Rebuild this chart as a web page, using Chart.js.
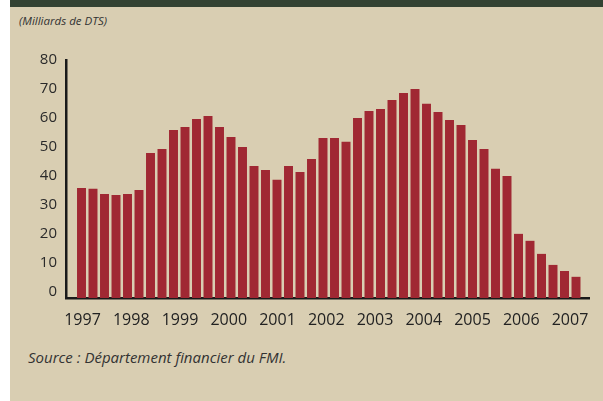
<!DOCTYPE html>
<html>
<head>
<meta charset="utf-8">
<script src="https://cdn.jsdelivr.net/npm/chart.js@4"></script>
<style>
  body { margin: 0; background: #fff; }
  #panel { position: absolute; left: 10px; top: 0; width: 593px; height: 401px; background: #d9ceb2; }
  #band { position: absolute; left: 10px; top: 0; width: 593px; height: 7px; background: #334232; }
  #unit { position: absolute; left: 19px; top: 13px; font: italic 11.5px "Open Sans", sans-serif; color: #333; }
  #source { position: absolute; left: 28px; top: 347px; font: italic 15px "Open Sans", sans-serif; color: #333; }
  #wrap { position: absolute; left: 0; top: 0; width: 603px; height: 401px; }
</style>
</head>
<body>
<div id="panel"></div>
<div id="band"></div>
<div id="unit">(Milliards de DTS)</div>
<div id="source">Source : Département financier du FMI.</div>
<div id="wrap"><canvas id="chart" width="603" height="401"></canvas></div>
<script>
// trimestres 1997 T1 -> 2007 T4
let values = [
    35.9, 35.6, 33.8, 33.5, 33.8, 35.2, 48.0, 49.3,
    55.9, 56.9, 59.7, 60.7, 56.9, 53.5, 50.0, 43.5,
    42.1, 38.7, 43.5, 41.4, 45.9, 53.1, 53.1, 51.8,
    60.0, 62.4, 63.1, 66.2, 68.6, 70.0, 64.9, 62.1,
    59.3, 57.6, 52.4, 49.3, 42.5, 40.0, 20.1, 17.7,
    13.2, 9.4, 7.3, 5.3
];
let years = [1997, 1998, 1999, 2000, 2001, 2002, 2003, 2004, 2005, 2006, 2007];
let yTicks = [0, 10, 20, 30, 40, 50, 60, 70, 80];

let yMin = -2;
let points = values.map((v, i) => ({ x: i, y: v }));

var ctx = document.getElementById("chart").getContext('2d');
var myChart = new Chart(ctx, {
    type: 'bar',
    data: {
        datasets: [{
            data: points,
            backgroundColor: '#a02833',
            base: yMin,
            categoryPercentage: 1,
            barPercentage: 0.78
        }]
    },
    options: {
        responsive: false,
        animation: false,
        layout: { padding: { left: 10, right: 14, top: 60, bottom: 63 } },
        plugins: { legend: { display: false }, tooltip: { enabled: false } },
        scales: {
            x: {
                type: 'linear',
                position: 'bottom',
                offset: false,
                min: -1.348,
                max: 44.13,
                display: false
            },
            years: {
                type: 'linear',
                position: 'bottom',
                offset: false,
                min: 1996.662,
                max: 2007.39,
                grid: { display: false, drawTicks: false, offset: false },
                border: { display: true, color: '#1a1a1a', width: 2.5 },
                afterBuildTicks: scale => { scale.ticks = years.map(v => ({ value: v })); },
                afterFit: scale => { scale.height = 40; },
                ticks: {
                    padding: 13,
                    color: '#222',
                    font: { family: 'Open Sans', size: 16 },
                    callback: v => String(v)
                }
            },
            y: {
                min: yMin,
                max: 80,
                grid: { display: false, drawTicks: false },
                border: { display: true, color: '#1a1a1a', width: 2.5 },
                afterBuildTicks: scale => { scale.ticks = yTicks.map(v => ({ value: v })); },
                afterFit: scale => { scale.width = 56; },
                ticks: {
                    padding: 9,
                    color: '#2a2a2a',
                    font: { family: 'Open Sans', size: 15 }
                }
            }
        }
    }
});
</script>
</body>
</html>
